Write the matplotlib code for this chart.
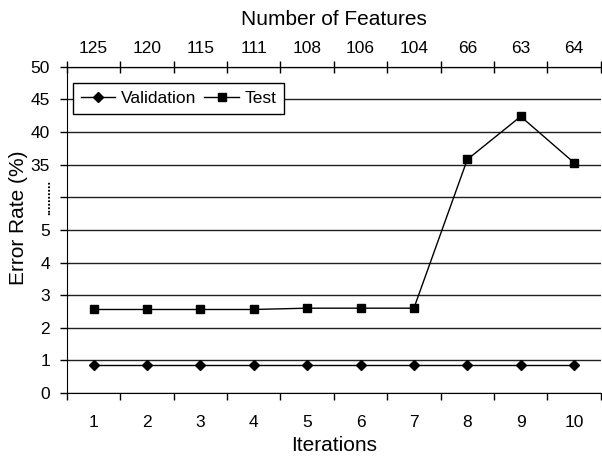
import numpy as np
import matplotlib
matplotlib.use('Agg')
import matplotlib.pyplot as plt

# data
iterations = [1, 2, 3, 4, 5, 6, 7, 8, 9, 10]
n_features = [125, 120, 115, 111, 108, 106, 104, 66, 63, 64]
validation = [0.85, 0.85, 0.85, 0.85, 0.85, 0.85, 0.85, 0.85, 0.85, 0.85]
test = [2.56, 2.56, 2.56, 2.56, 2.6, 2.6, 2.6, 35.8, 42.4, 35.3]

y_ticks = [0, 1, 2, 3, 4, 5, 30, 35, 40, 45, 50]
y_labels = ['0', '1', '2', '3', '4', '5', '', '35', '40', '45', '50']

plt.rcParams['font.family'] = ['Liberation Sans', 'DejaVu Sans']


# broken y axis: 0-5 linear, 5-30 squeezed into one step, 30-50 in steps of 5
def fwd(v):
    v = np.asarray(v, dtype=float)
    return np.where(v <= 5, v, np.where(v <= 30, 5 + (v - 5) / 25, 6 + (v - 30) / 5))


def inv(p):
    p = np.asarray(p, dtype=float)
    return np.where(p <= 5, p, np.where(p <= 6, 5 + (p - 5) * 25, 30 + (p - 6) * 5))


fig = plt.figure(figsize=(6.02, 4.58), dpi=100)
ax = fig.add_axes([0.111, 0.142, 0.887, 0.712])
ax.set_yscale('function', functions=(fwd, inv))
ax.set_ylim(0, 50)
ax.set_xlim(0.5, 10.5)

ax.set_yticks(y_ticks)
ax.set_yticklabels(y_labels)
ax.yaxis.set_minor_locator(plt.NullLocator())
ax.yaxis.grid(True, color='#202020', linewidth=1)
ax.set_axisbelow(True)

ax.plot(iterations, validation, color='black', linewidth=1, marker='D', markersize=5, label='Validation')
ax.plot(iterations, test, color='black', linewidth=1, marker='s', markersize=6, label='Test')

# category axis: ticks between categories, labels centred
bounds = np.arange(0.5, 11, 1)
ax.set_xticks(bounds)
ax.set_xticklabels([])
ax.set_xticks(iterations, minor=True)
ax.set_xticklabels([str(i) for i in iterations], minor=True)
ax.tick_params(axis='x', which='major', direction='out', length=5, width=1)
ax.tick_params(axis='x', which='minor', length=0, pad=16, labelsize=12.5)
ax.tick_params(axis='y', direction='out', length=5, width=1, pad=7, labelsize=12.5)
ax.set_xlabel('Iterations', fontsize=15, labelpad=4)
ax.set_ylabel('Error Rate (%)', fontsize=15)
ax.yaxis.set_label_coords(-0.073, 0.537)

# break marker beside the empty tick
ax.text(-0.037, 30, '..........', transform=ax.get_yaxis_transform(), rotation=90,
        ha='center', va='center', fontsize=9, fontweight='bold')

ax.spines['right'].set_visible(False)

# number of features on top
ax2 = ax.twiny()
ax2.set_xlim(ax.get_xlim())
ax2.set_xticks(bounds)
ax2.set_xticklabels([])
ax2.set_xticks(iterations, minor=True)
ax2.set_xticklabels([str(n) for n in n_features], minor=True)
ax2.tick_params(axis='x', which='major', direction='inout', length=8, width=1)
ax2.tick_params(axis='x', which='minor', length=0, pad=8, labelsize=12.5)
ax2.set_xlabel('Number of Features', fontsize=15, labelpad=11)
for s in ['right', 'left', 'bottom']:
    ax2.spines[s].set_visible(False)

leg = ax.legend(loc='upper left', bbox_to_anchor=(0.011, 0.951), ncol=2, borderaxespad=0,
                frameon=True, fancybox=False, framealpha=1, edgecolor='black',
                fontsize=12.5, handlelength=2.0, handletextpad=0.3, columnspacing=0.5,
                borderpad=0.45)
leg.get_frame().set_linewidth(1)

fig.savefig('out.png', dpi=100)
